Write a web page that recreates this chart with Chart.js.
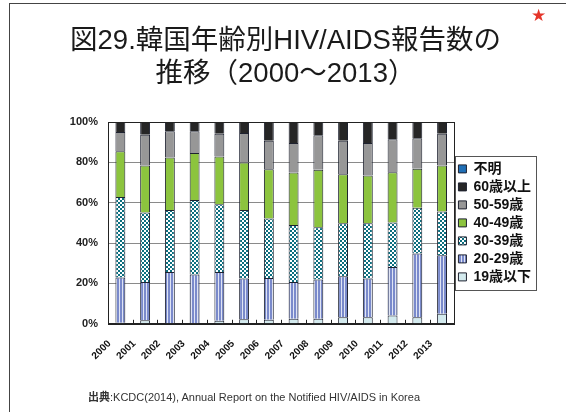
<!DOCTYPE html>
<html lang="ja">
<head>
<meta charset="UTF-8">
<title>韓国年齢別HIV/AIDS報告数の推移</title>
<script src="https://cdn.jsdelivr.net/npm/chart.js"></script>
<style>
    html, body {
        margin: 0;
        padding: 0;
        background-color: #fff;
    }
    #wrap {
        position: relative;
        width: 566px;
        height: 412px;
        overflow: hidden;
    }
    #frame {
        position: absolute;
        left: 9px;
        top: 3px;
        width: 600px;
        height: 500px;
        border-left: 1.5px solid #444;
        border-top: 1.5px solid #444;
    }
    #star {
        position: absolute;
        left: 531px;
        top: 5px;
        color: #e5352a;
        font: 17px "DejaVu Sans", sans-serif;
    }
    #source {
        position: absolute;
        left: 88px;
        top: 388px;
        color: #333;
        font: 11px "Liberation Sans", "Noto Sans CJK JP", sans-serif;
    }
    #source b {
        font-weight: bold;
    }
    canvas {
        position: absolute;
        left: 0;
        top: 0;
    }
</style>
</head>
<body>
<div id="wrap">
    <div id="frame"></div>
    <canvas id="ageChart" width="566" height="412"></canvas>
    <span id="star">★</span>
    <div id="source"><b>出典</b>:KCDC(2014), Annual Report on the Notified HIV/AIDS in Korea</div>
</div>

<script>
    // years on the x axis
    const years = ['2000', '2001', '2002', '2003', '2004', '2005', '2006',
                   '2007', '2008', '2009', '2010', '2011', '2012', '2013'];

    // share of reports by age group (%)
    const age19under = [0.5, 1.7, 0.3, 0.3, 1.5, 2.2, 2.0, 2.5, 2.5, 3.3, 3.3, 4.1, 3.3, 5.0];
    const age20s = [22.4, 19.0, 25.4, 24.1, 24.2, 20.2, 20.7, 18.2, 19.4, 20.2, 19.1, 24.1, 31.5, 29.0];
    const age30s = [39.9, 34.5, 30.7, 37.0, 33.5, 34.0, 29.5, 28.2, 25.9, 26.3, 27.4, 22.0, 22.7, 21.6];
    const age40s = [22.7, 23.2, 26.0, 23.2, 23.7, 23.5, 24.4, 26.1, 28.5, 24.3, 23.7, 24.9, 19.3, 22.8];
    const age50s = [9.5, 15.3, 13.0, 10.8, 11.3, 14.6, 14.1, 14.6, 17.1, 16.6, 16.1, 16.4, 15.2, 15.8];
    const age60over = [5.0, 6.3, 4.6, 4.6, 5.8, 5.5, 9.3, 10.4, 6.6, 9.3, 10.4, 8.5, 8.0, 5.8];
    const unknown = [0, 0, 0, 0, 0, 0, 0, 0, 0, 0, 0, 0, 0, 0];

    const seriesLabels = ['19歳以下', '20-29歳', '30-39歳', '40-49歳', '50-59歳', '60歳以上', '不明'];
    const yTicks = [0, 20, 40, 60, 80, 100];

    const FONT = '"Liberation Sans", "Noto Sans CJK JP", sans-serif';

    /*************************
        FILL PATTERNS
    *************************/

    // teal / white checkerboard
    function checkerPattern() {
        const c = document.createElement('canvas');
        c.width = 4; c.height = 4;
        const g = c.getContext('2d');
        g.fillStyle = '#ffffff';
        g.fillRect(0, 0, 4, 4);
        g.fillStyle = '#0c6f7f';
        g.fillRect(0, 0, 2, 2);
        g.fillRect(2, 2, 2, 2);
        return g.createPattern(c, 'repeat');
    }

    // blue with thin light vertical stripes
    function stripePattern() {
        const c = document.createElement('canvas');
        c.width = 3; c.height = 3;
        const g = c.getContext('2d');
        g.fillStyle = '#7a8acb';
        g.fillRect(0, 0, 3, 3);
        g.fillStyle = '#dfe4f4';
        g.fillRect(2, 0, 1, 3);
        return g.createPattern(c, 'repeat');
    }

    const fills = ['#d3eaee', stripePattern(), checkerPattern(), '#8cc43e', '#979797', '#262626', '#1f6fb6'];
    const values = [age19under, age20s, age30s, age40s, age50s, age60over, unknown];

    const datasets = values.map((v, i) => ({
        label: seriesLabels[i],
        data: v,
        backgroundColor: fills[i],
        borderColor: '#1e2230',
        borderWidth: 1,
        barPercentage: 0.4,
        categoryPercentage: 1.0
    }));

    /*************************
        EXTRA DECORATION
    *************************/

    // box round the plot, small ticks on the base line, frame round the legend
    const boxesPlugin = {
        id: 'boxes',
        afterDraw(chart) {
            const { ctx, chartArea: a, scales: { x }, legend } = chart;
            ctx.save();
            ctx.strokeStyle = '#222';
            ctx.lineWidth = 1;
            ctx.strokeRect(Math.round(a.left) + 0.5, Math.round(a.top) + 0.5,
                           Math.round(a.right - a.left), Math.round(a.bottom - a.top));

            for (let i = 0; i <= years.length; i++) {
                const px = Math.round(x.getPixelForValue(i - 0.5)) + 0.5;
                ctx.beginPath();
                ctx.moveTo(px, a.bottom);
                ctx.lineTo(px, a.bottom - 4);
                ctx.stroke();
            }

            const hb = legend.legendHitBoxes;
            if (hb && hb.length) {
                const l = Math.min(...hb.map(h => h.left)) - 3;
                const t = Math.min(...hb.map(h => h.top)) - 6;
                const r = Math.max(...hb.map(h => h.left + h.width)) + 5;
                const b = Math.max(...hb.map(h => h.top + h.height)) + 6;
                ctx.strokeStyle = '#555';
                ctx.strokeRect(Math.round(l) + 0.5, Math.round(t) + 0.5, Math.round(r - l), Math.round(b - t));
            }
            ctx.restore();
        }
    };

    /*************************
        CHART
    *************************/

    const ctx = document.getElementById('ageChart').getContext('2d');
    new Chart(ctx, {
        type: 'bar',
        data: {
            labels: years,
            datasets: datasets
        },
        plugins: [boxesPlugin],
        options: {
            responsive: false,
            animation: false,
            devicePixelRatio: 1,
            layout: {
                padding: { left: 30, right: 25, top: 0, bottom: 36 }
            },
            plugins: {
                title: {
                    display: true,
                    fullSize: true,
                    text: ['図29.韓国年齢別HIV/AIDS報告数の', '推移（2000～2013）'],
                    color: '#1a1a1a',
                    font: { family: FONT, size: 27.5, weight: 'normal', lineHeight: 1.2 },
                    padding: { top: 25, bottom: 31 }
                },
                legend: {
                    position: 'right',
                    fullSize: false,
                    reverse: true,
                    labels: {
                        boxWidth: 8,
                        boxHeight: 8,
                        padding: 4,
                        color: '#111',
                        font: { family: FONT, size: 14, weight: 'bold' }
                    }
                },
                tooltip: { enabled: false }
            },
            scales: {
                x: {
                    stacked: true,
                    grid: { display: false, drawTicks: false },
                    border: { display: true, color: '#222' },
                    ticks: {
                        autoSkip: false,
                        minRotation: 45,
                        maxRotation: 45,
                        padding: 14,
                        labelOffset: -11,
                        color: '#111',
                        font: { family: FONT, size: 10, weight: 'bold' }
                    }
                },
                y: {
                    stacked: true,
                    min: 0,
                    max: 100,
                    afterFit: (s) => { s.width = 78; },
                    afterBuildTicks: (s) => { s.ticks = yTicks.map(v => ({ value: v })); },
                    grid: { color: '#8a8a8a', lineWidth: 1, drawTicks: false },
                    border: { display: true, color: '#222' },
                    ticks: {
                        padding: 10,
                        color: '#222',
                        font: { family: FONT, size: 11, weight: 'bold' },
                        callback: (v) => v + '%'
                    }
                }
            }
        }
    });
</script>
</body>
</html>
